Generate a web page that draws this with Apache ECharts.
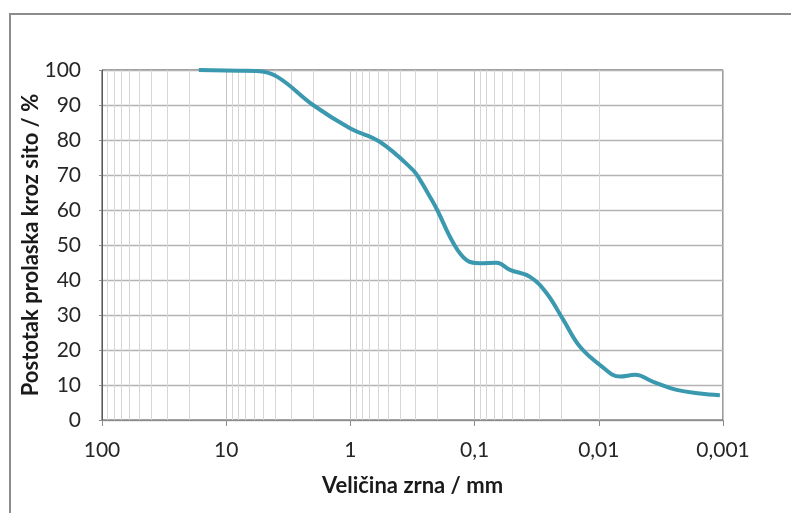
<!DOCTYPE html>
<html>
<head>
<meta charset="utf-8">
<script src="https://cdn.jsdelivr.net/npm/echarts@6/dist/echarts.min.js"></script>
<style>
  html, body { margin: 0; padding: 0; background: #fff; }
  #chart { width: 791px; height: 513px; }
</style>
</head>
<body>
<div id="chart"></div>
<script>
// Grain size (mm) and percent passing through the sieve
const grainSize = [16.6, 8, 5.7, 3.9, 2.0, 1.0, 0.58, 0.313, 0.275, 0.229, 0.2, 0.148, 0.116, 0.0906,
  0.0664, 0.0519, 0.0358, 0.0263, 0.0193, 0.01416, 0.00977, 0.00675, 0.0051, 0.00364, 0.00236, 0.00153, 0.00106];
const percentPassing = [100, 99.8, 99.7, 98.1, 90, 83.3, 79.5, 71.4, 68.6, 63.8, 60, 50.5, 45.7, 44.8,
  44.9, 42.9, 40.9, 36.2, 28.6, 20.9, 15.7, 12.4, 12.9, 10.9, 8.6, 7.6, 7.1];

const xTitle = 'Veličina zrna / mm';
const yTitle = 'Postotak prolaska kroz sito / %';

// Intermediate (2..9 x 10^k) vertical gridlines of the log axis
const minorGrid = [];
for (let k = -3; k <= 1; k++) {
  for (let m = 2; m <= 9; m++) {
    minorGrid.push({ xAxis: Number((m * Math.pow(10, k)).toPrecision(6)) });
  }
}

const font = 'Lato, "Open Sans", sans-serif';

const chart = echarts.init(document.getElementById('chart'));
chart.setOption({
  animation: false,
  backgroundColor: '#ffffff',
  grid: {
    left: 102, top: 70, right: 68, bottom: 93,
    show: true, borderColor: '#3a3a3a', borderWidth: 1
  },
  graphic: [{
    type: 'rect',
    shape: { x: 10, y: 14, width: 820, height: 540 },
    style: { fill: 'none', stroke: '#8c8c8c', lineWidth: 2 },
    silent: true, z: -1
  }],
  xAxis: {
    type: 'log',
    logBase: 10,
    min: 0.001,
    max: 100,
    inverse: true,
    name: xTitle,
    nameLocation: 'middle',
    nameGap: 55,
    nameMoveOverlap: false,
    nameTextStyle: { fontFamily: font, fontSize: 22, fontWeight: 'bold', color: '#1a1a1a' },
    axisLine: { show: true, onZero: false, lineStyle: { color: '#8c8c8c', width: 1 } },
    axisTick: { show: true, length: 6, lineStyle: { color: '#8c8c8c' } },
    axisLabel: {
      margin: 20,
      fontFamily: font, fontSize: 21, color: '#262626',
      formatter: v => String(Number(v.toPrecision(6))).replace('.', ',')
    },
    splitLine: { show: true, lineStyle: { color: '#c4c4c4', width: 1 } }
  },
  yAxis: {
    type: 'value',
    min: 0, max: 100, interval: 10,
    name: yTitle,
    nameLocation: 'middle',
    nameGap: 60,
    nameMoveOverlap: false,
    nameTextStyle: { fontFamily: font, fontSize: 22, fontWeight: 'bold', color: '#1a1a1a' },
    axisLine: { show: true, lineStyle: { color: '#595959', width: 1 } },
    axisTick: { show: true, length: 3, lineStyle: { color: '#8c8c8c' } },
    axisLabel: { margin: 21, fontFamily: font, fontSize: 21, color: '#262626' },
    splitLine: { show: true, lineStyle: { color: '#b3b3b3', width: 1.3 } }
  },
  series: [{
    type: 'line',
    data: grainSize.map((g, i) => [g, percentPassing[i]]),
    smooth: 0.4,
    showSymbol: false,
    lineStyle: { color: '#3a98af', width: 4 },
    itemStyle: { color: '#3a98af' },
    z: 5,
    markLine: {
      silent: true,
      symbol: ['none', 'none'],
      label: { show: false },
      lineStyle: { color: '#d6d6d6', width: 1, type: 'solid' },
      animation: false,
      z: 1,
      data: minorGrid
    }
  }]
});
</script>
</body>
</html>
